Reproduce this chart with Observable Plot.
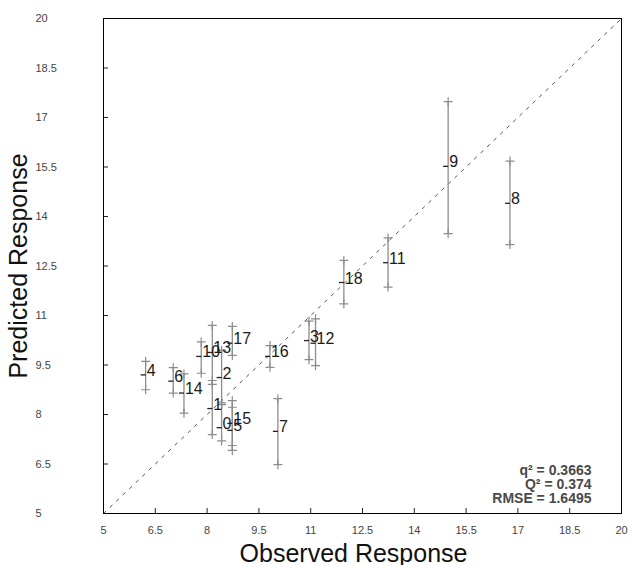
<!DOCTYPE html>
<html><head><meta charset="utf-8">
<script src="https://cdn.jsdelivr.net/npm/d3@7"></script>
<script src="https://cdn.jsdelivr.net/npm/@observablehq/plot@0.6"></script>
<style>
body{margin:0;background:#fff;}
#chart{width:629px;height:565px;}
</style>
</head><body><div id="chart"></div>
<script>
const labels    = ["0","1","2","3","4","5","6","7","8","9","10","11","12","13","14","15","16","17","18"];
const observed  = [8.42, 8.15, 8.42, 10.95, 6.22, 8.73, 7.02, 10.05, 16.77, 14.98, 7.83, 13.24, 11.14, 8.15, 7.33, 8.73, 9.82, 8.73, 11.96];
const predicted = [7.60, 8.18, 9.12, 10.24, 9.20, 7.52, 9.01, 7.49, 14.40, 15.52, 9.76, 12.60, 10.16, 9.88, 8.65, 7.73, 9.76, 10.16, 12.00];
const upper     = [8.30, 9.03, 9.95, 10.83, 9.61, 8.22, 9.42, 8.48, 15.68, 17.48, 10.20, 13.35, 10.90, 10.70, 9.23, 8.42, 10.09, 10.67, 12.67];
const lower     = [7.20, 7.39, 8.35, 9.66, 8.75, 6.91, 8.65, 6.48, 13.15, 13.48, 9.25, 11.86, 9.48, 8.91, 8.04, 7.06, 9.43, 9.79, 11.35];
const axisTicks = [5, 6.5, 8, 9.5, 11, 12.5, 14, 15.5, 17, 18.5, 20];
const diagonal  = [5, 20];
const stats     = ["q\u00b2 = 0.3663", "Q\u00b2 = 0.374", "RMSE = 1.6495"];

const rows = labels.map((l, i) => ({label: l, obs: observed[i], pred: predicted[i], hi: upper[i], lo: lower[i]}));
const leftTick = {draw(ctx) { ctx.moveTo(-5, 0); ctx.lineTo(0, 0); }};

const chart = Plot.plot({
  width: 629,
  height: 565,
  marginLeft: 103,
  marginRight: 8,
  marginTop: 18,
  marginBottom: 52,
  style: {fontFamily: "'Liberation Sans', Arial, sans-serif", background: "#fff"},
  x: {domain: [5, 20]},
  y: {domain: [5, 20]},
  marks: [
    Plot.axisX({ticks: axisTicks, tickSize: -5, text: null, label: null, stroke: "#222"}),
    Plot.axisX({ticks: axisTicks, tickSize: 0, tickPadding: 13, fontSize: 11, fill: "#444", tickFormat: d => String(d), label: null}),
    Plot.axisY({ticks: axisTicks, tickSize: -5, text: null, label: null, stroke: "#222"}),
    Plot.axisY({ticks: axisTicks, tickSize: 0, tickPadding: 0, dx: -68, textAnchor: "start", fontSize: 11, fill: "#444", tickFormat: d => String(d), label: null}),
    Plot.line(diagonal, {x: d => d, y: d => d, stroke: "#555", strokeWidth: 1, strokeDasharray: "3,6"}),
    Plot.ruleX(rows, {x: "obs", y1: "lo", y2: "hi", stroke: "#8c8c8c", strokeWidth: 1.3}),
    Plot.dot(rows, {x: "obs", y: "hi", symbol: "plus", r: 3, stroke: "#8c8c8c", strokeWidth: 1.2}),
    Plot.dot(rows, {x: "obs", y: "lo", symbol: "plus", r: 3, stroke: "#8c8c8c", strokeWidth: 1.2}),
    Plot.dot(rows, {x: "obs", y: "pred", symbol: leftTick, stroke: "#222", strokeWidth: 1.3}),
    Plot.text(rows, {x: "obs", y: "pred", text: "label", textAnchor: "start", lineAnchor: "bottom", dx: 1, dy: 1, fontSize: 16, fill: "#1a1a1a"}),
    Plot.text([stats.join("\n")], {frameAnchor: "bottom-right", textAnchor: "end", lineAnchor: "bottom", lineHeight: 1.0, dx: -30, dy: -11, fontSize: 14, fontWeight: "bold", fill: "#4a4a4a"}),
    Plot.text(["Observed Response"], {frameAnchor: "bottom", textAnchor: "middle", lineAnchor: "middle", dy: 40, dx: -9, fontSize: 25, fill: "#111"}),
    Plot.text(["Predicted Response"], {frameAnchor: "left", textAnchor: "middle", lineAnchor: "middle", rotate: -90, dx: -85, fontSize: 25, fill: "#111"}),
    Plot.frame({stroke: "#000", strokeWidth: 1})
  ]
});
document.getElementById("chart").appendChild(chart);
</script>
</body></html>
